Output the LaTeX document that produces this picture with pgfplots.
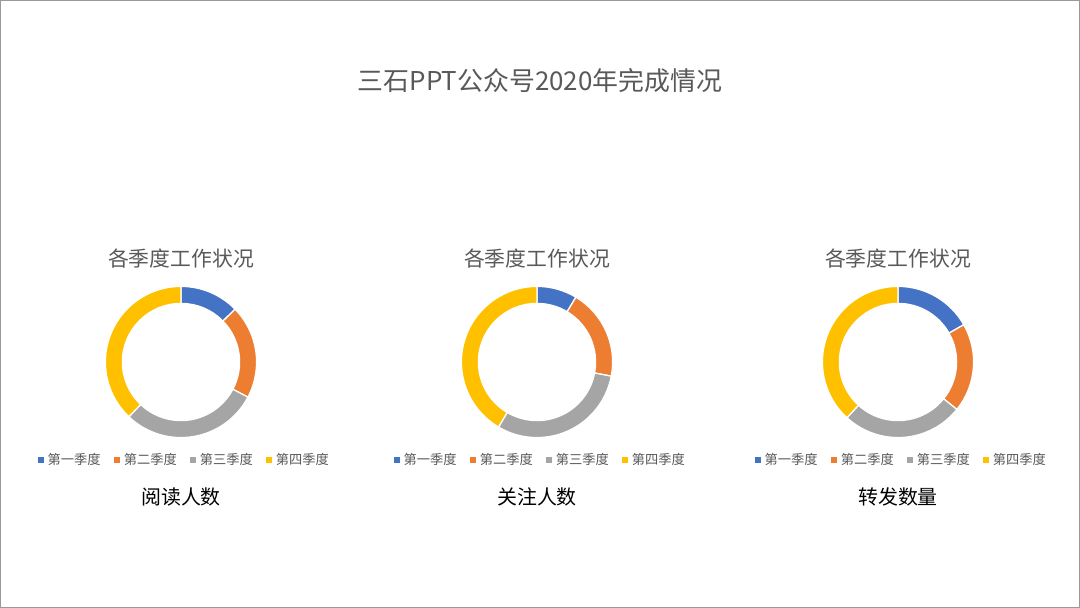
\documentclass[border=0pt]{standalone}
\usepackage{pgfplots}
\pgfplotsset{compat=1.18}
\usepackage{pgfplotstable}
\usepackage{fontspec}
\setmainfont{Noto Sans CJK SC}
\definecolor{q1}{HTML}{4472C4}
\definecolor{q2}{HTML}{ED7D31}
\definecolor{q3}{HTML}{A5A5A5}
\definecolor{q4}{HTML}{FFC000}
\definecolor{txt}{HTML}{595959}

% values in percent, Q1..Q4
\pgfplotstableread{
q v
1 12.7
2 20.0
3 29.4
4 37.9
}\tableA
\pgfplotstableread{
q v
1 8.6
2 19.4
3 30.5
4 41.5
}\tableB
\pgfplotstableread{
q v
1 16.8
2 19.0
3 26.0
4 38.2
}\tableC

\newcommand\donut[1]{%
  \def\cum{0}%
  \pgfplotsforeachungrouped \i/\col in {0/q1,1/q2,2/q3,3/q4}{%
    \pgfplotstablegetelem{\i}{v}\of#1%
    \let\val\pgfplotsretval
    \pgfmathsetmacro\aS{90-3.6*\cum}%
    \pgfmathsetmacro\aE{90-3.6*(\cum+\val)}%
    \pgfmathsetmacro\cum{\cum+\val}%
    \edef\cmd{\noexpand\fill[\col,draw=white,line width=1.3bp]
      (axis cs:0,0) ++(\aS:75.6bp) arc[start angle=\aS,end angle=\aE,radius=75.6bp]
      -- ([shift={(\aE:58.6bp)}]axis cs:0,0) arc[start angle=\aE,end angle=\aS,radius=58.6bp] -- cycle;}%
    \cmd
  }%
}

\pgfplotsset{
  donutaxis/.style={
    width=150bp, height=150bp, scale only axis, hide axis,
    xmin=-1, xmax=1, ymin=-1, ymax=1, anchor=center,
    clip=false,
    legend columns=4,
    legend style={draw=none, fill=none, at={(0.52,-0.153)}, anchor=center,
      font=\fontsize{13.3}{15}\selectfont, text=txt,
      inner sep=0pt,
      nodes={inner sep=1pt},
      /tikz/every even column/.append style={column sep=12.5bp}},
    legend image code/.code={\fill[##1] (0bp,-2.3bp) rectangle (4.6bp,2.3bp);\path (8.2bp,0bp);},
  },
}

\newcommand\legendq{%
  \addlegendimage{q1}\addlegendentry{第一季度}
  \addlegendimage{q2}\addlegendentry{第二季度}
  \addlegendimage{q3}\addlegendentry{第三季度}
  \addlegendimage{q4}\addlegendentry{第四季度}
}

\begin{document}
\begin{tikzpicture}[x=1bp,y=1bp]
\fill[white] (0,0) rectangle (1080,608);
\draw[gray!80, line width=1bp] (0.5,0.5) rectangle (1079.5,607.5);

\node[text=txt, font=\fontsize{26}{30}\selectfont] at (540,527) {三石PPT公众号2020年完成情况};

\begin{axis}[donutaxis, at={(181bp,246bp)}]
  \legendq
  \donut{\tableA}
  \node[text=txt, font=\fontsize{20.9}{24}\selectfont] at (axis description cs:0.5,1.187) {各季度工作状况};
  \node[text=black, font=\fontsize{20}{24}\selectfont] at (axis description cs:0.5,-0.4) {阅读人数};
\end{axis}

\begin{axis}[donutaxis, at={(537bp,246bp)}]
  \legendq
  \donut{\tableB}
  \node[text=txt, font=\fontsize{20.9}{24}\selectfont] at (axis description cs:0.5,1.187) {各季度工作状况};
  \node[text=black, font=\fontsize{20}{24}\selectfont] at (axis description cs:0.5,-0.4) {关注人数};
\end{axis}

\begin{axis}[donutaxis, at={(898bp,246bp)}]
  \legendq
  \donut{\tableC}
  \node[text=txt, font=\fontsize{20.9}{24}\selectfont] at (axis description cs:0.5,1.187) {各季度工作状况};
  \node[text=black, font=\fontsize{20}{24}\selectfont] at (axis description cs:0.5,-0.4) {转发数量};
\end{axis}
\end{tikzpicture}
\end{document}
